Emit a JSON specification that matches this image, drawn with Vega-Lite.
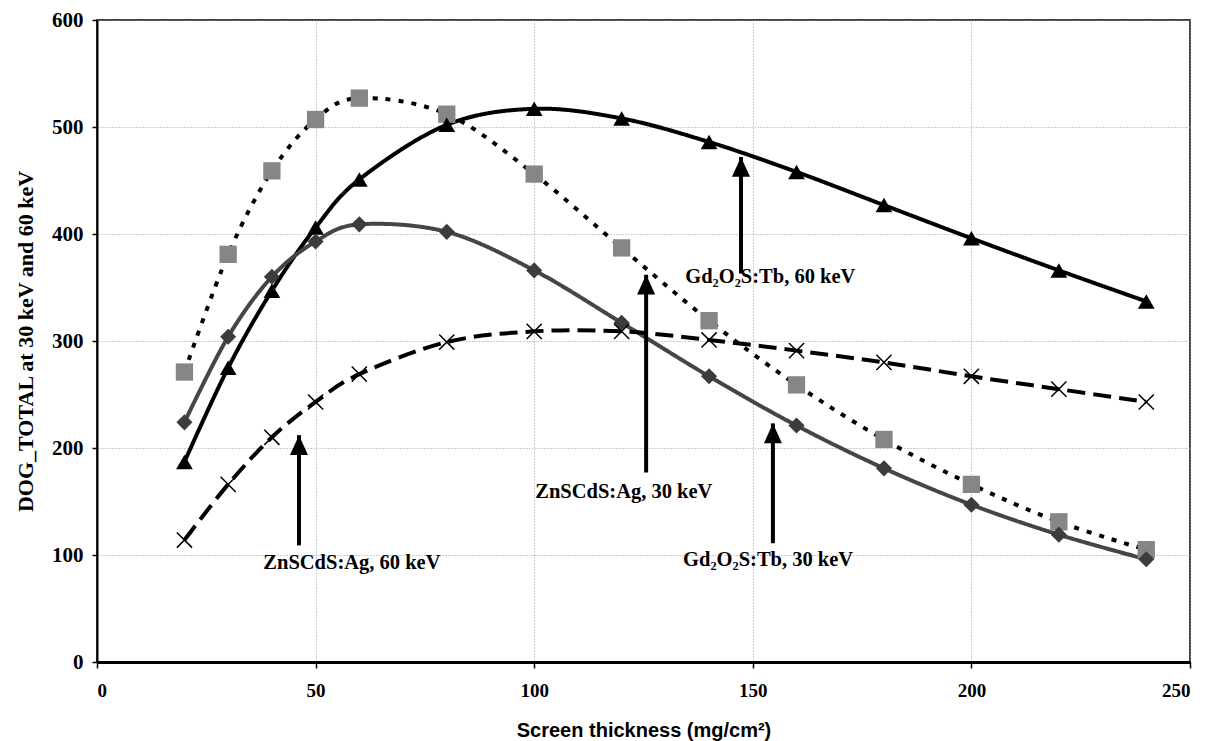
{
  "$schema": "https://vega.github.io/schema/vega-lite/v6.json",
  "width": 1093,
  "height": 642,
  "autosize": "none",
  "padding": {"left": 97, "top": 20, "right": 20, "bottom": 79},
  "background": "white",
  "config": {
    "view": {"stroke": "black", "strokeWidth": 1.5},
    "axis": {
      "labelFont": "Liberation Serif",
      "labelFontWeight": "bold",
      "labelColor": "black",
      "gridColor": "#9a9a9a",
      "gridDash": [1, 2],
      "gridWidth": 1,
      "domainColor": "black",
      "tickColor": "black"
    }
  },
  "resolve": {"scale": {"color": "independent", "size": "independent"}},
  "datasets": {
    "series": [
      {"s": "ZnSCdS:Ag, 30 keV", "x": 20, "y": 271},
      {"s": "ZnSCdS:Ag, 30 keV", "x": 30, "y": 381},
      {"s": "ZnSCdS:Ag, 30 keV", "x": 40, "y": 459},
      {"s": "ZnSCdS:Ag, 30 keV", "x": 50, "y": 507},
      {"s": "ZnSCdS:Ag, 30 keV", "x": 60, "y": 527},
      {"s": "ZnSCdS:Ag, 30 keV", "x": 80, "y": 512},
      {"s": "ZnSCdS:Ag, 30 keV", "x": 100, "y": 456},
      {"s": "ZnSCdS:Ag, 30 keV", "x": 120, "y": 387},
      {"s": "ZnSCdS:Ag, 30 keV", "x": 140, "y": 319},
      {"s": "ZnSCdS:Ag, 30 keV", "x": 160, "y": 259},
      {"s": "ZnSCdS:Ag, 30 keV", "x": 180, "y": 208},
      {"s": "ZnSCdS:Ag, 30 keV", "x": 200, "y": 166},
      {"s": "ZnSCdS:Ag, 30 keV", "x": 220, "y": 131},
      {"s": "ZnSCdS:Ag, 30 keV", "x": 240, "y": 105},
      {"s": "Gd2O2S:Tb, 60 keV", "x": 20, "y": 187},
      {"s": "Gd2O2S:Tb, 60 keV", "x": 30, "y": 275},
      {"s": "Gd2O2S:Tb, 60 keV", "x": 40, "y": 347},
      {"s": "Gd2O2S:Tb, 60 keV", "x": 50, "y": 406},
      {"s": "Gd2O2S:Tb, 60 keV", "x": 60, "y": 451},
      {"s": "Gd2O2S:Tb, 60 keV", "x": 80, "y": 502},
      {"s": "Gd2O2S:Tb, 60 keV", "x": 100, "y": 517},
      {"s": "Gd2O2S:Tb, 60 keV", "x": 120, "y": 508},
      {"s": "Gd2O2S:Tb, 60 keV", "x": 140, "y": 486},
      {"s": "Gd2O2S:Tb, 60 keV", "x": 160, "y": 458},
      {"s": "Gd2O2S:Tb, 60 keV", "x": 180, "y": 427},
      {"s": "Gd2O2S:Tb, 60 keV", "x": 200, "y": 396},
      {"s": "Gd2O2S:Tb, 60 keV", "x": 220, "y": 366},
      {"s": "Gd2O2S:Tb, 60 keV", "x": 240, "y": 337},
      {"s": "Gd2O2S:Tb, 30 keV", "x": 20, "y": 224},
      {"s": "Gd2O2S:Tb, 30 keV", "x": 30, "y": 304},
      {"s": "Gd2O2S:Tb, 30 keV", "x": 40, "y": 360},
      {"s": "Gd2O2S:Tb, 30 keV", "x": 50, "y": 393},
      {"s": "Gd2O2S:Tb, 30 keV", "x": 60, "y": 409},
      {"s": "Gd2O2S:Tb, 30 keV", "x": 80, "y": 402},
      {"s": "Gd2O2S:Tb, 30 keV", "x": 100, "y": 366},
      {"s": "Gd2O2S:Tb, 30 keV", "x": 120, "y": 317},
      {"s": "Gd2O2S:Tb, 30 keV", "x": 140, "y": 267},
      {"s": "Gd2O2S:Tb, 30 keV", "x": 160, "y": 221},
      {"s": "Gd2O2S:Tb, 30 keV", "x": 180, "y": 181},
      {"s": "Gd2O2S:Tb, 30 keV", "x": 200, "y": 147},
      {"s": "Gd2O2S:Tb, 30 keV", "x": 220, "y": 119},
      {"s": "Gd2O2S:Tb, 30 keV", "x": 240, "y": 96},
      {"s": "ZnSCdS:Ag, 60 keV", "x": 20, "y": 114},
      {"s": "ZnSCdS:Ag, 60 keV", "x": 30, "y": 166},
      {"s": "ZnSCdS:Ag, 60 keV", "x": 40, "y": 210},
      {"s": "ZnSCdS:Ag, 60 keV", "x": 50, "y": 243},
      {"s": "ZnSCdS:Ag, 60 keV", "x": 60, "y": 269},
      {"s": "ZnSCdS:Ag, 60 keV", "x": 80, "y": 299},
      {"s": "ZnSCdS:Ag, 60 keV", "x": 100, "y": 309},
      {"s": "ZnSCdS:Ag, 60 keV", "x": 120, "y": 309},
      {"s": "ZnSCdS:Ag, 60 keV", "x": 140, "y": 301},
      {"s": "ZnSCdS:Ag, 60 keV", "x": 160, "y": 291},
      {"s": "ZnSCdS:Ag, 60 keV", "x": 180, "y": 280},
      {"s": "ZnSCdS:Ag, 60 keV", "x": 200, "y": 267},
      {"s": "ZnSCdS:Ag, 60 keV", "x": 220, "y": 255},
      {"s": "ZnSCdS:Ag, 60 keV", "x": 240, "y": 243}
    ],
    "arrows": [
      {"x": 147.3, "tip": 472, "tail": 363},
      {"x": 125.6, "tip": 362, "tail": 177},
      {"x": 154.6, "tip": 223, "tail": 111},
      {"x": 46.2, "tip": 212, "tail": 109}
    ],
    "labels": [
      {"x": 154, "y": 360, "text": "Gd₂O₂S:Tb, 60 keV"},
      {"x": 120.5, "y": 159, "text": "ZnSCdS:Ag, 30 keV"},
      {"x": 153.5, "y": 95, "text": "Gd₂O₂S:Tb, 30 keV"},
      {"x": 58.3, "y": 92.5, "text": "ZnSCdS:Ag, 60 keV"}
    ]
  },
  "encoding": {
    "x": {
      "type": "quantitative",
      "scale": {"domain": [0, 250], "nice": false, "zero": false},
      "axis": {
        "values": [0, 50, 100, 150, 200, 250],
        "title": "Screen thickness (mg/cm²)",
        "titleFont": "Liberation Sans",
        "titleFontWeight": "bold",
        "titleFontSize": 20,
        "titleColor": "black",
        "titlePadding": 20,
        "labelFontSize": 19,
        "domainWidth": 3,
        "tickSize": 6,
        "tickWidth": 1.5,
        "labelPadding": 13,
        "grid": true
      }
    },
    "y": {
      "type": "quantitative",
      "scale": {"domain": [0, 600], "nice": false, "zero": false},
      "axis": {
        "values": [0, 100, 200, 300, 400, 500, 600],
        "title": "DOG_TOTAL at 30 keV and 60 keV",
        "titleFont": "Liberation Serif",
        "titleFontWeight": "bold",
        "titleFontSize": 22,
        "titleColor": "black",
        "titlePadding": 14,
        "labelFontSize": 21,
        "domainWidth": 2,
        "tickSize": 5,
        "tickWidth": 1.5,
        "labelPadding": 9,
        "grid": true
      }
    }
  },
  "layer": [
    {
      "data": {"name": "series"},
      "mark": {"type": "line", "interpolate": "cardinal", "tension": 0},
      "encoding": {
        "x": {"field": "x", "type": "quantitative"},
        "y": {"field": "y", "type": "quantitative"},
        "detail": {"field": "s"},
        "color": {
          "field": "s", "type": "nominal", "legend": null,
          "scale": {"domain": ["ZnSCdS:Ag, 30 keV", "Gd2O2S:Tb, 60 keV", "Gd2O2S:Tb, 30 keV", "ZnSCdS:Ag, 60 keV"],
                    "range": ["#000000", "#000000", "#454545", "#000000"]}
        },
        "strokeDash": {
          "field": "s", "type": "nominal", "legend": null,
          "scale": {"domain": ["ZnSCdS:Ag, 30 keV", "Gd2O2S:Tb, 60 keV", "Gd2O2S:Tb, 30 keV", "ZnSCdS:Ag, 60 keV"],
                    "range": [[5, 8], [1, 0], [1, 0], [18, 8]]}
        },
        "strokeWidth": {
          "field": "s", "type": "nominal", "legend": null,
          "scale": {"domain": ["ZnSCdS:Ag, 30 keV", "Gd2O2S:Tb, 60 keV", "Gd2O2S:Tb, 30 keV", "ZnSCdS:Ag, 60 keV"],
                    "range": [4, 4, 3.5, 4]}
        }
      }
    },
    {
      "data": {"name": "series"},
      "transform": [{"filter": "datum.s !== 'ZnSCdS:Ag, 60 keV'"}],
      "mark": {"type": "point", "filled": true, "opacity": 1, "strokeWidth": 0},
      "encoding": {
        "x": {"field": "x", "type": "quantitative"},
        "y": {"field": "y", "type": "quantitative"},
        "shape": {
          "field": "s", "type": "nominal", "legend": null,
          "scale": {"domain": ["ZnSCdS:Ag, 30 keV", "Gd2O2S:Tb, 60 keV", "Gd2O2S:Tb, 30 keV"],
                    "range": ["square", "triangle-up", "diamond"]}
        },
        "color": {
          "field": "s", "type": "nominal", "legend": null,
          "scale": {"domain": ["ZnSCdS:Ag, 30 keV", "Gd2O2S:Tb, 60 keV", "Gd2O2S:Tb, 30 keV"],
                    "range": ["#868686", "#000000", "#3c3c3c"]}
        },
        "size": {
          "field": "s", "type": "nominal", "legend": null,
          "scale": {"domain": ["ZnSCdS:Ag, 30 keV", "Gd2O2S:Tb, 60 keV", "Gd2O2S:Tb, 30 keV"],
                    "range": [300, 260, 230]}
        }
      }
    },
    {
      "data": {"name": "series"},
      "transform": [{"filter": "datum.s === 'ZnSCdS:Ag, 60 keV'"}],
      "mark": {"type": "point", "filled": false, "shape": "M-1,-1L1,1M1,-1L-1,1", "size": 230, "stroke": "black", "strokeWidth": 1.5, "opacity": 1},
      "encoding": {
        "x": {"field": "x", "type": "quantitative"},
        "y": {"field": "y", "type": "quantitative"}
      }
    },
    {
      "data": {"name": "arrows"},
      "mark": {"type": "rule", "color": "black", "strokeWidth": 4},
      "encoding": {
        "x": {"field": "x", "type": "quantitative"},
        "y": {"field": "tail", "type": "quantitative"},
        "y2": {"field": "tip"}
      }
    },
    {
      "data": {"name": "arrows"},
      "mark": {"type": "point", "filled": true, "shape": "M0,0L-0.5,1.1L0.5,1.1Z", "size": 1296, "color": "black", "opacity": 1, "strokeWidth": 0},
      "encoding": {
        "x": {"field": "x", "type": "quantitative"},
        "y": {"field": "tip", "type": "quantitative"}
      }
    },
    {
      "data": {"name": "labels"},
      "mark": {"type": "text", "font": "Liberation Serif", "fontWeight": "bold", "fontSize": 20.5, "color": "black", "align": "center", "baseline": "middle"},
      "encoding": {
        "x": {"field": "x", "type": "quantitative"},
        "y": {"field": "y", "type": "quantitative"},
        "text": {"field": "text"}
      }
    }
  ]
}
